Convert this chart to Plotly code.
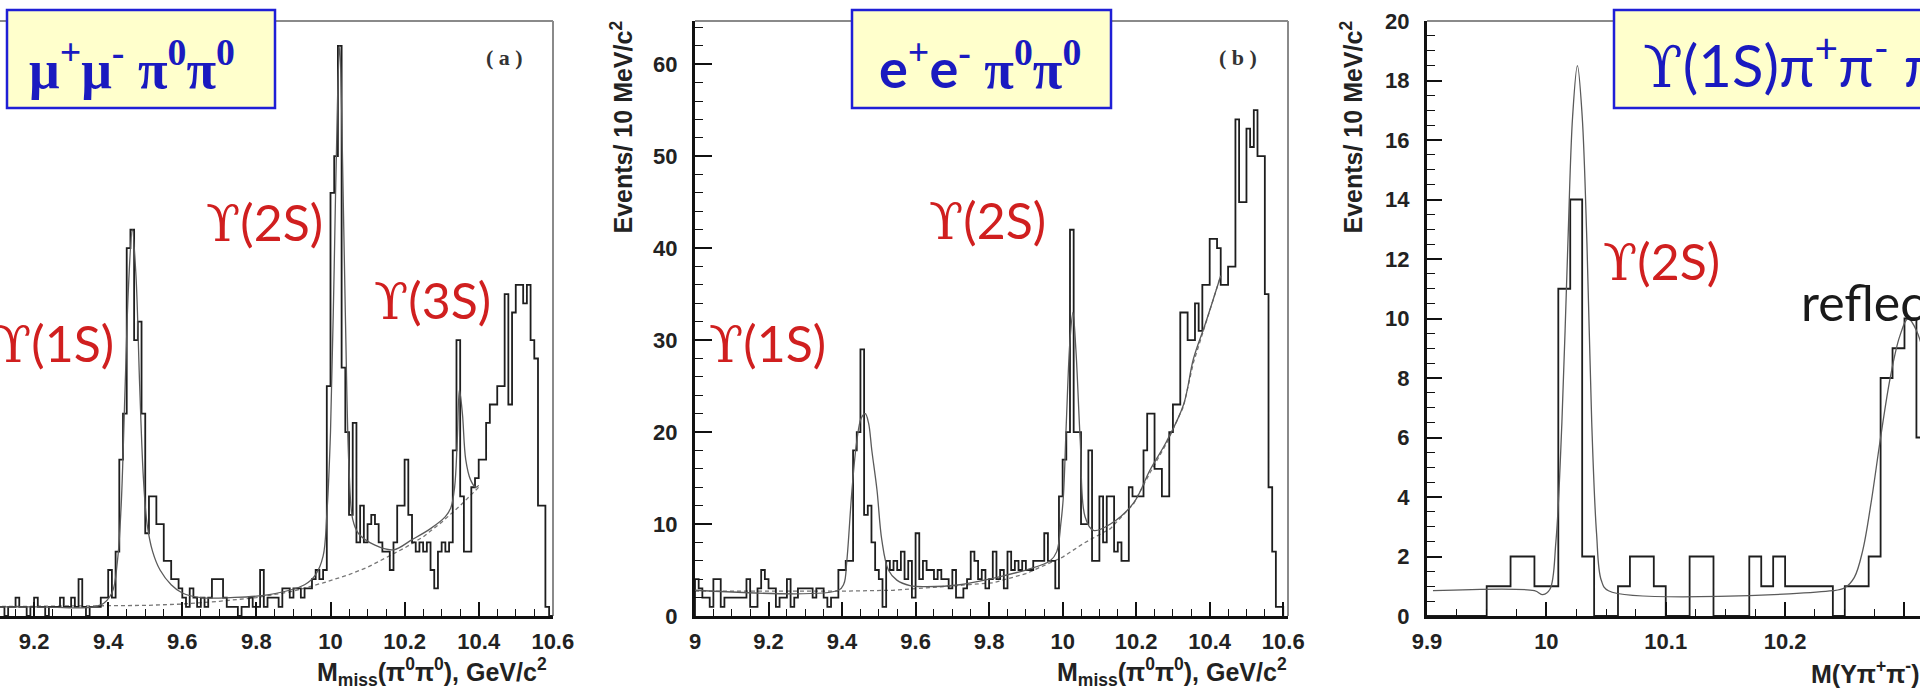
import plotly.graph_objects as go

W, H = 1920, 695
BIN_WIDTH = 0.01

# ---- (a) missing mass recoiling against pi0 pi0, mu+ mu- sample (10 MeV bins from 9.00) ----
MUMU_START = 9.00
MUMU_COUNTS = [
    1, 0, 1, 1, 0, 2, 1, 1, 0, 1,
    1, 1, 0, 1, 1, 2, 1, 1, 0, 1,
    2, 1, 1, 0, 1, 1, 1, 2, 1, 1,
    2, 1, 4, 1, 0, 1, 1, 1, 2, 2,
    5, 2, 7, 17, 22, 40, 42, 30, 32, 22,
    9, 13, 13, 10, 10, 6, 6, 4, 4, 3,
    2, 1, 3, 2, 1, 2, 1, 2, 4, 4,
    4, 2, 1, 1, 1, 0, 1, 1, 2, 1,
    1, 5, 1, 2, 2, 2, 1, 3, 3, 2,
    3, 3, 2, 3, 3, 4, 5, 4, 5, 25,
    46, 50, 62, 27, 20, 11, 21, 8, 12, 8,
    10, 11, 10, 8, 7, 7, 5, 8, 12, 12,
    17, 11, 8, 7, 8, 7, 8, 5, 3, 7,
    8, 7, 8, 18, 30, 13, 7, 7, 14, 15,
    17, 17, 21, 23, 23, 25, 25, 35, 23, 33,
    36, 36, 34, 36, 30, 28, 12, 12, 1, 0,
]
MUMU_FIT = [
    (9.00, 1.0), (9.20, 1.0), (9.38, 1.2), (9.41, 2.5), (9.425, 6), (9.435, 12),
    (9.445, 24), (9.455, 36), (9.465, 42), (9.475, 37), (9.485, 25), (9.495, 15),
    (9.505, 10), (9.52, 7), (9.54, 5), (9.57, 3.4), (9.60, 2.5), (9.65, 2.0),
    (9.73, 2.0), (9.83, 2.3), (9.93, 3.4), (9.96, 4.5), (9.98, 6.5), (9.99, 11),
    (10.00, 20), (10.01, 38), (10.02, 58), (10.025, 62), (10.03, 55), (10.04, 33),
    (10.05, 16), (10.06, 10.5), (10.075, 9), (10.12, 7.7), (10.17, 7.2),
    (10.22, 8.3), (10.27, 9.5), (10.31, 10.8), (10.325, 11.8), (10.335, 14),
    (10.342, 19), (10.348, 24.6), (10.356, 22), (10.365, 17), (10.378, 14.8),
    (10.392, 14), (10.40, 14.2),
]
MUMU_BKG = [
    (9.00, 1.0), (9.30, 1.05), (9.50, 1.15), (9.60, 1.3), (9.70, 1.6), (9.80, 2.0),
    (9.90, 2.7), (9.98, 3.6), (10.05, 4.5), (10.10, 5.3), (10.16, 6.6), (10.20, 7.4),
    (10.25, 8.6), (10.30, 10.2), (10.35, 12.0), (10.40, 14.0),
]

# ---- (b) same spectrum, e+ e- sample ----
EE_START = 9.00
EE_COUNTS = [
    4, 3, 2, 2, 1, 4, 4, 1, 2, 2,
    2, 2, 2, 2, 4, 1, 1, 3, 5, 4,
    3, 3, 1, 2, 2, 4, 1, 2, 3, 3,
    3, 3, 2, 3, 3, 2, 1, 2, 2, 5,
    5, 6, 6, 18, 20, 29, 11, 12, 8, 5,
    4, 1, 6, 5, 6, 5, 7, 4, 6, 2,
    9, 4, 6, 5, 5, 4, 5, 4, 4, 3,
    5, 2, 2, 3, 4, 7, 6, 4, 5, 3,
    4, 7, 4, 5, 3, 7, 5, 6, 5, 6,
    5, 5, 6, 6, 6, 9, 6, 6, 3, 13,
    17, 20, 42, 20, 20, 10, 10, 18, 6, 6,
    13, 8, 13, 13, 7, 8, 6, 6, 14, 13,
    13, 13, 18, 22, 22, 16, 16, 13, 13, 20,
    23, 23, 33, 33, 30, 30, 34, 31, 36, 36,
    41, 41, 40, 36, 36, 38, 38, 54, 45, 45,
    53, 51, 55, 50, 50, 35, 14, 7, 1, 1,
]
EE_FIT = [
    (9.00, 2.8), (9.39, 2.8), (9.405, 3.5), (9.413, 6), (9.427, 13.7), (9.44, 19),
    (9.452, 21.5), (9.463, 22), (9.472, 21), (9.481, 18), (9.495, 13.7),
    (9.508, 8.3), (9.526, 5), (9.549, 3.9), (9.585, 3.3), (9.63, 3.2), (9.72, 3.4),
    (9.81, 4.1), (9.90, 5.0), (9.966, 6.0), (9.984, 7), (9.995, 10), (10.002, 13),
    (10.01, 21), (10.02, 30), (10.028, 33), (10.036, 29), (10.048, 19),
    (10.061, 10.8), (10.084, 9.3), (10.13, 10), (10.193, 12.3), (10.238, 15.9),
    (10.283, 19), (10.329, 23), (10.356, 28), (10.39, 32), (10.43, 37),
]
EE_BKG = [
    (9.00, 2.7), (9.40, 2.7), (9.54, 2.8), (9.81, 3.6), (9.90, 4.6), (9.966, 5.8),
    (10.00, 6.4), (10.057, 7.9), (10.13, 9.5), (10.193, 12.2), (10.238, 15.6),
    (10.283, 18.8), (10.329, 22.8), (10.356, 27.6), (10.39, 31.8), (10.43, 37),
]

# ---- (c) M(Upsilon pi+ pi-) for Upsilon(1S) pi+ pi- pi+ pi- ----
UPS_START = 9.90
UPS_COUNTS = [
    0, 0, 0, 0, 0, 1, 1, 2, 2, 1,
    1, 11, 14, 2, 0, 0, 1, 2, 2, 1,
    0, 0, 2, 2, 0, 0, 0, 2, 1, 2,
    1, 1, 1, 1, 0, 1, 1, 2, 8, 9,
    10, 6,
]
UPS_FIT = [
    (9.905, 0.85), (9.99, 0.85), (9.997, 0.72), (10.003, 0.9), (10.008, 2.5),
    (10.013, 6.5), (10.018, 12.5), (10.022, 16.8), (10.026, 18.5), (10.03, 16.8),
    (10.034, 12.5), (10.038, 6.5), (10.042, 2.8), (10.046, 1.2), (10.052, 0.85),
    (10.24, 0.85), (10.25, 0.95), (10.258, 1.3), (10.265, 2.2), (10.272, 3.8),
    (10.28, 6.0), (10.288, 8.0), (10.296, 9.4), (10.303, 10.0), (10.31, 9.6),
    (10.32, 8.2),
]

# tick labels
A_XTICKS = [9.2, 9.4, 9.6, 9.8, 10.0, 10.2, 10.4, 10.6]
A_XLABELS = ["9.2", "9.4", "9.6", "9.8", "10", "10.2", "10.4", "10.6"]
B_XTICKS = [9.0, 9.2, 9.4, 9.6, 9.8, 10.0, 10.2, 10.4, 10.6]
B_XLABELS = ["9", "9.2", "9.4", "9.6", "9.8", "10", "10.2", "10.4", "10.6"]
B_YTICKS = [0, 10, 20, 30, 40, 50, 60]
C_XTICKS = [9.9, 10.0, 10.1, 10.2, 10.3]
C_XLABELS = ["9.9", "10", "10.1", "10.2", "10.3"]
C_YTICKS = [0, 2, 4, 6, 8, 10, 12, 14, 16, 18, 20]


def steps(start, counts):
    edges = [start + i * BIN_WIDTH for i in range(len(counts) + 1)]
    xs = [edges[0]] + edges + [edges[-1]]
    ys = [0] + list(counts) + [counts[-1], 0]
    return xs, ys


def unzip(pairs):
    return [p[0] for p in pairs], [p[1] for p in pairs]


def px(x):
    return x / W


def py(y):
    return 1 - y / H


HIST = dict(color="#1e1e1e", width=1.8)
FIT = dict(color="#5a5a5a", width=1.3)
BKG = dict(color="#777777", width=1.3, dash="4px,3px")

fig = go.Figure()
panels = [
    ("x", "y", MUMU_START, MUMU_COUNTS, MUMU_FIT, MUMU_BKG),
    ("x2", "y2", EE_START, EE_COUNTS, EE_FIT, EE_BKG),
    ("x3", "y3", UPS_START, UPS_COUNTS, UPS_FIT, None),
]
for xa, ya, start, counts, fit, bkg in panels:
    if bkg is not None:
        bx, by = unzip(bkg)
        fig.add_trace(go.Scatter(x=bx, y=by, mode="lines", line=BKG,
                                 xaxis=xa, yaxis=ya, hoverinfo="skip"))
    hx, hy = steps(start, counts)
    fig.add_trace(go.Scatter(x=hx, y=hy, mode="lines", line=HIST, line_shape="hv",
                             xaxis=xa, yaxis=ya, hoverinfo="skip"))
    fx, fy = unzip(fit)
    fig.add_trace(go.Scatter(x=fx, y=fy, mode="lines", line=FIT, line_shape="spline",
                             xaxis=xa, yaxis=ya, hoverinfo="skip"))

TICKFONT = dict(family="Liberation Sans, Arial, sans-serif", size=22, color="#222",
                weight="bold")
Y_DOMAIN = [py(616), py(21)]


def xaxis(domain, rng, vals, labels, minor_dtick, minor_tick0, anchor):
    return dict(domain=domain, range=rng, anchor=anchor, tickmode="array",
                tickvals=vals, ticktext=labels, ticks="inside", ticklen=14,
                tickwidth=1.6, tickcolor="#111", showline=True, linewidth=3,
                linecolor="#111", showgrid=False, zeroline=False, tickfont=TICKFONT,
                ticklabelstandoff=4, fixedrange=True, automargin=False,
                minor=dict(tickmode="linear", tick0=minor_tick0, dtick=minor_dtick,
                           ticks="inside", ticklen=7, tickwidth=1.3,
                           tickcolor="#111", showgrid=False))


def yaxis(rng, vals, minor_dtick, anchor, ticklen):
    return dict(domain=Y_DOMAIN, range=rng, anchor=anchor, tickmode="array",
                tickvals=vals, ticktext=[str(v) for v in vals], ticks="inside",
                ticklen=ticklen, tickwidth=1.6, tickcolor="#111", showline=True,
                linewidth=3, linecolor="#111", showgrid=False, zeroline=False,
                tickfont=TICKFONT, ticklabelstandoff=10, fixedrange=True,
                automargin=False,
                minor=dict(tickmode="linear", tick0=0, dtick=minor_dtick,
                           ticks="inside", ticklen=8, tickwidth=1.3,
                           tickcolor="#111", showgrid=False))


A_RANGE = [9.108, 10.6005]
B_RANGE = [9.0, 10.613]
C_RANGE = [9.9, 10.313]

fig.update_layout(
    width=W, height=H, autosize=False,
    margin=dict(l=0, r=0, t=0, b=0, pad=0, autoexpand=False),
    paper_bgcolor="white", plot_bgcolor="white", showlegend=False,
    xaxis=xaxis([0, px(553)], A_RANGE, A_XTICKS, A_XLABELS, 0.05, 9.0, "y"),
    yaxis=dict(domain=Y_DOMAIN, range=[0, 64.7], anchor="x", visible=False,
               fixedrange=True, automargin=False),
    xaxis2=xaxis([px(695), px(1288)], B_RANGE, B_XTICKS, B_XLABELS, 0.05, 9.0, "y2"),
    yaxis2=yaxis([0, 64.7], B_YTICKS, 2, "x2", 17),
    xaxis3=xaxis([px(1427), 1.0], C_RANGE, C_XTICKS, C_XLABELS, 0.025, 9.9, "y3"),
    yaxis3=yaxis([0, 20.001], C_YTICKS, 0.5, "x3", 15),
)

# thin grey frame on the top and right sides
FRAME = dict(color="#8a8a8a", width=2)
shapes = []
for xa, ya, right in [("x", "y", True), ("x2", "y2", True), ("x3", "y3", False)]:
    shapes.append(dict(type="line", xref=f"{xa} domain", yref=f"{ya} domain",
                       x0=0, x1=1, y0=1, y1=1, line=FRAME, layer="below"))
    if right:
        shapes.append(dict(type="line", xref=f"{xa} domain", yref=f"{ya} domain",
                           x0=1, x1=1, y0=0, y1=1, line=FRAME, layer="below"))

# yellow title boxes
BOX_FILL = "#ffffcc"
BOX_LINE = dict(color="#1f1fd6", width=2.5)
for x0, x1 in [(7, 275), (852, 1111), (1614, 1935)]:
    shapes.append(dict(type="rect", xref="paper", yref="paper",
                       x0=px(x0), x1=px(x1), y0=py(108), y1=py(10),
                       fillcolor=BOX_FILL, line=BOX_LINE, layer="above"))
fig.update_layout(shapes=shapes)

RED = "#d01f1f"
BLUE = "#1a1ac0"
SERIF = "DejaVu Serif, Liberation Serif, serif"
BSERIF = "Liberation Serif, DejaVu Serif, serif"
SANS = "Liberation Sans, Arial, sans-serif"
LABEL = "Lato, Open Sans, sans-serif"


def ann(x, y, text, size, color, family, xanchor="left", yanchor="middle", angle=0):
    fig.add_annotation(x=px(x), y=py(y), xref="paper", yref="paper", text=text,
                       showarrow=False, xanchor=xanchor, yanchor=yanchor,
                       textangle=angle, borderpad=0,
                       font=dict(size=size, color=color, family=family))


def ups(state):
    return f'<span style="font-family:{SERIF}">ϒ</span>({state})'


def sans(s):
    return f'<span style="font-family:{LABEL}">{s}</span>'


# box contents
ann(28, 66, "<b>μ<sup>+</sup>μ<sup>-</sup> π<sup>0</sup>π<sup>0</sup></b>", 54, BLUE, BSERIF)
ann(878, 66, "<b>" + sans("e") + "<sup>+</sup>" + sans("e")
    + "<sup>-</sup> π<sup>0</sup>π<sup>0</sup></b>", 54, BLUE, BSERIF)
ann(1642, 62, ups("1S") + "π<sup>+</sup>π<sup>-</sup> π<sup>+</sup>π<sup>-</sup>", 58,
    BLUE, LABEL)

# panel letters
ann(505, 58, "<b>( a )</b>", 22, "#333", BSERIF, xanchor="center")
ann(1238, 58, "<b>( b )</b>", 22, "#333", BSERIF, xanchor="center")

# resonance labels
ann(115, 343, ups("1S"), 50, RED, LABEL, xanchor="right")
ann(205, 222, ups("2S"), 50, RED, LABEL)
ann(373, 300, ups("3S"), 50, RED, LABEL)
ann(708, 343, ups("1S"), 50, RED, LABEL)
ann(928, 221, ups("2S"), 50, RED, LABEL)
ann(1602, 261, ups("2S"), 50, RED, LABEL)
ann(1800, 302, "reflection", 50, "#1a1a1a", LABEL)

# axis titles
XTITLE = "<b>M<sub>miss</sub>(π<sup>0</sup>π<sup>0</sup>), GeV/c<sup>2</sup></b>"
ann(548, 672, XTITLE, 25, "#222", SANS, xanchor="right")
ann(1288, 672, XTITLE, 25, "#222", SANS, xanchor="right")
ann(1810, 672, "<b>M(Υπ<sup>+</sup>π<sup>-</sup>), GeV/c<sup>2</sup></b>", 25, "#222",
    SANS)
YTITLE = "<b>Events/ 10 MeV/c<sup>2</sup></b>"
ann(621, 20, YTITLE, 25, "#222", SANS, xanchor="center", yanchor="top", angle=-90)
ann(1351, 20, YTITLE, 25, "#222", SANS, xanchor="center", yanchor="top", angle=-90)

fig.write_html("out.html")
